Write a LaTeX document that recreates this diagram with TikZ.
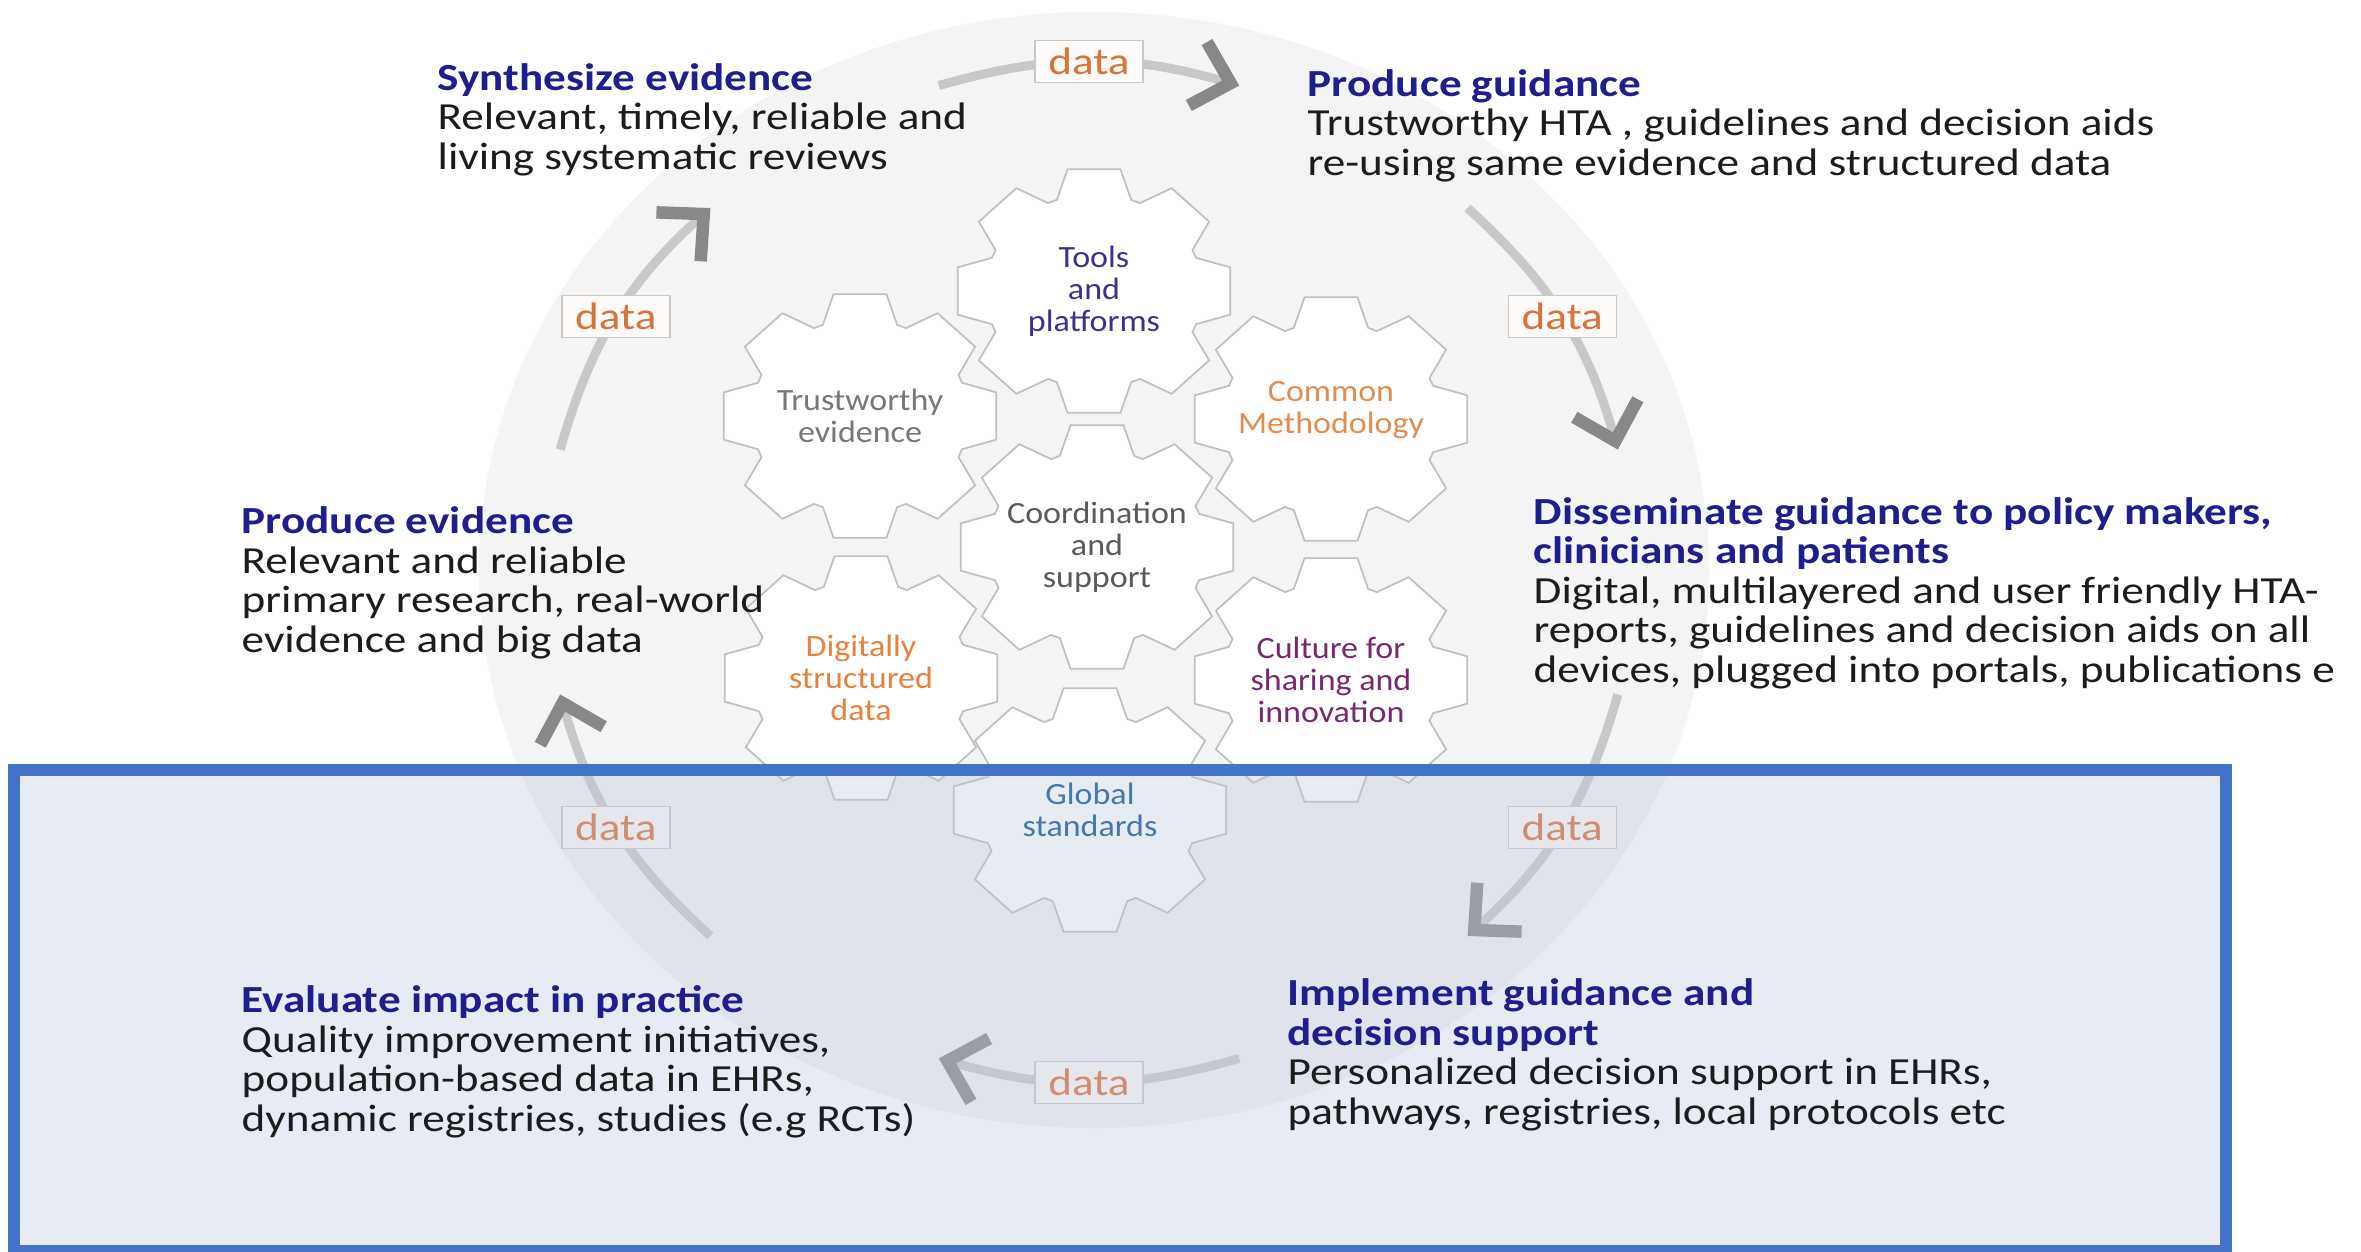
\documentclass[tikz,border=0pt]{standalone}
\usepackage{fontspec}
\setmainfont{Carlito}[FakeStretch=1.18]
\newfontfamily\cogfont{Carlito}[FakeStretch=1.1]
\usetikzlibrary{arrows.meta}

\definecolor{navy}{RGB}{30,30,140}
\definecolor{bodyblack}{RGB}{28,28,28}
\definecolor{discfill}{RGB}{244,244,244}
\definecolor{cogedge}{RGB}{192,192,192}
\definecolor{flowgray}{RGB}{200,200,200}
\definecolor{tipgray}{RGB}{136,136,136}
\definecolor{boxedge}{RGB}{200,200,200}
\definecolor{boxfill}{RGB}{253,250,247}
\definecolor{dataorange}{RGB}{215,115,60}
\definecolor{veil}{RGB}{189,198,221}
\definecolor{frameblue}{RGB}{68,114,196}
\definecolor{toolsc}{RGB}{60,50,140}
\definecolor{trustc}{RGB}{120,120,120}
\definecolor{commonc}{RGB}{225,140,80}
\definecolor{coordc}{RGB}{90,90,90}
\definecolor{digitalc}{RGB}{230,130,60}
\definecolor{culturec}{RGB}{120,40,110}
\definecolor{globalc}{RGB}{70,120,170}

\newcommand{\stagetitle}[1]{{\bfseries\color{navy}#1}}

\tikzset{
  pics/cog/.style={code={
    \draw[cogline, xscale=1.12] (-20:97)
      \foreach \t in {0,45,...,315}{ -- ({\t-20}:97) -- ({\t-11}:124) -- ({\t+11}:124) -- ({\t+20}:97) }
      -- cycle;
  }}
}

\begin{document}
\begin{tikzpicture}[
  x=0.1mm, y=-0.1mm,
  stage/.style={anchor=base west, align=left, inner sep=0pt, text=bodyblack,
    font=\fontsize{10.9}{11.2}\selectfont},
  cogline/.style={draw=cogedge, fill=white, line width=0.5pt},
  cogtext/.style={align=center, inner sep=0pt, font=\cogfont\fontsize{8.8}{9.1}\selectfont},
  flow/.style={draw=flowgray, line width=0.9mm,
    -{Straight Barb[length=3.4mm,width=6.6mm,line width=1.25mm,color=tipgray]}},
  databox/.style={draw=boxedge, fill=boxfill, line width=0.4pt, text=dataorange,
    minimum width=10.8mm, minimum height=4.2mm, inner sep=0pt,
    font=\fontsize{10.9}{11.2}\selectfont},
  frame/.style={draw=frameblue, line width=1.2mm}]

\useasboundingbox (0,0) rectangle (2361,1251);
\fill[white] (0,0) rectangle (2361,1251);
\fill[discfill] (1094,570) ellipse [x radius=615, y radius=558];

% gears
\foreach \n/\x/\y in {tools/1094/291, trust/860/416, common/1331/419, coord/1097/547,
                      digital/861/678, culture/1331/680, global/1090/810}{
  \coordinate (c-\n) at (\x,\y);
  \pic at (c-\n) {cog};
}

% data flow round the cycle
\foreach \a [count=\i] in {90,30,-30,-90,-150,150}{
  \coordinate (s\i) at ({1089+545*cos(\a+16)},{572-506*sin(\a+16)});
  \coordinate (e\i) at ({1089+545*cos(\a-16)},{572-506*sin(\a-16)});
  \draw[flow] (s\i) to[bend left=16] node[databox] (d\i) {data} (e\i);
}

\fill[veil, fill opacity=0.35] (14,770) rectangle (2226,1251);
\draw[frame] (14,770) rectangle (2226,1251);

\node[cogtext, text=toolsc]   (tools)   at (c-tools)   {Tools\\and\\platforms};
\node[cogtext, text=trustc]   (trust)   at (c-trust)   {Trustworthy\\evidence};
\node[cogtext, text=commonc]  (common)  at (1331,410)  {Common\\Methodology};
\node[cogtext, text=coordc]   (coord)   at (c-coord)   {Coordination\\and\\support};
\node[cogtext, text=digitalc] (digital) at (c-digital) {Digitally\\structured\\data};
\node[cogtext, text=culturec] (culture) at (c-culture) {Culture for\\sharing and\\innovation};
\node[cogtext, text=globalc]  (global)  at (c-global)  {Global\\standards};

% base anchor sits on the last line
\node[stage] (synth) at (437,169) {\stagetitle{Synthesize evidence}\\
  Relevant, timely, reliable and\\living systematic reviews};
\node[stage] (guide) at (1307,175) {\stagetitle{Produce guidance}\\
  Trustworthy HTA , guidelines and decision aids\\re-using same evidence and structured data};
\begin{scope}
  \clip (0,0) rectangle (2332,1251);
  \node[stage] (dissem) at (1533,682) {\stagetitle{Disseminate guidance to policy makers,}\\
    \stagetitle{clinicians and patients}\\
    Digital, multilayered and user friendly HTA-\\
    reports, guidelines and decision aids on all\\
    devices, plugged into portals, publications etc};
\end{scope}
\node[stage] (impl) at (1287,1124) {\stagetitle{Implement guidance and}\\
  \stagetitle{decision support}\\
  Personalized decision support in EHRs,\\pathways, registries, local protocols etc};
\node[stage] (evalu) at (241,1131) {\stagetitle{Evaluate impact in practice}\\
  Quality improvement initiatives,\\population-based data in EHRs,\\
  dynamic registries, studies (e.g RCTs)};
\begin{scope}
  \clip (0,0) rectangle (808,1251);
  \node[stage] (prodev) at (241,652) {\stagetitle{Produce evidence}\\
    Relevant and reliable\\primary research, real-world\\evidence and big data};
\end{scope}
\end{tikzpicture}
\end{document}
